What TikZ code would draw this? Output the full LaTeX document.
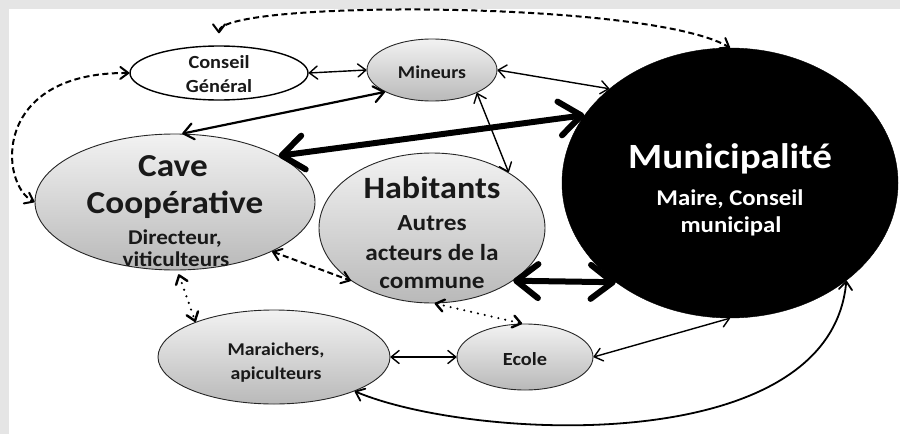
\documentclass[tikz,border=0pt]{standalone}
\usepackage{fontspec}
\setmainfont{Carlito}[FakeStretch=1.1]
\usetikzlibrary{arrows.meta,shapes.geometric}
\definecolor{bgc}{RGB}{229,229,229}
\begin{document}
\begin{tikzpicture}[x=1pt,y=-1pt,
  ell/.style={ellipse, draw=black!85, line width=0.9pt, inner sep=0pt, top color=gray!10, bottom color=gray!55},
  txt/.style={anchor=base, inner sep=0pt, font=\bfseries, text=black!90},
  wtxt/.style={anchor=base, inner sep=0pt, font=\bfseries, text=white},
  lk/.style={line width=1.4pt, {Straight Barb[round,length=8pt,width=13pt]}-{Straight Barb[round,length=8pt,width=13pt]}},
  mid/.style={line width=2.2pt, {Straight Barb[round,length=10pt,width=16pt]}-{Straight Barb[round,length=10pt,width=16pt]}},
  big/.style={line width=6pt, {Straight Barb[round,length=22pt,width=34pt]}-{Straight Barb[round,length=22pt,width=34pt]}},
  dsh/.style={line width=2pt, dash pattern=on 6pt off 3.5pt, {Straight Barb[round,length=8pt,width=12pt]}-{Straight Barb[round,length=8pt,width=12pt]}},
  dtt/.style={line width=2.4pt, line cap=round, dash pattern=on 0pt off 7pt, {Straight Barb[round,length=8pt,width=12pt]}-{Straight Barb[round,length=8pt,width=12pt]}}
]
\useasboundingbox (0,0) rectangle (900,434);
\fill[bgc] (0,0) rectangle (900,434);
\fill[white] (9,9) rectangle (900,434);

% ellipses
\node[ellipse, draw=black, line width=1.4pt, fill=white, inner sep=0pt, minimum width=178pt, minimum height=54pt] (cg) at (219,73) {};
\node[ell, minimum width=130pt, minimum height=62pt] (mins) at (432,70) {};
\node[ellipse, draw=black, fill=black, inner sep=0pt, minimum width=336pt, minimum height=270pt] (mun) at (730,183) {};
\node[ell, minimum width=280pt, minimum height=136pt] (cave) at (175,202) {};
\node[ell, minimum width=226pt, minimum height=150pt] (hab) at (432,228) {};
\node[ell, minimum width=232pt, minimum height=94pt] (mar) at (274,357) {};
\node[ell, minimum width=136pt, minimum height=66pt] (ec) at (525,357) {};

% texts
\node[txt, font=\bfseries\fontsize{18.5}{20}\selectfont] (cgA) at (219,68) {Conseil};
\node[txt, font=\bfseries\fontsize{18.5}{20}\selectfont] (cgB) at (219,92) {Général};
\node[txt, font=\bfseries\fontsize{18}{20}\selectfont] (minA) at (432,78) {Mineurs};
\node[wtxt, font=\bfseries\fontsize{35.5}{38}\selectfont] (munA) at (730,168) {Municipalité};
\node[wtxt, font=\bfseries\fontsize{22.5}{24}\selectfont] (munB) at (730,205) {Maire, Conseil};
\node[wtxt, font=\bfseries\fontsize{22.5}{24}\selectfont] (munC) at (731,232) {municipal};
\node[txt, font=\bfseries\fontsize{32}{34}\selectfont] (caveA) at (173,176) {Cave};
\node[txt, font=\bfseries\fontsize{32}{34}\selectfont] (caveB) at (175,213) {Coopérative};
\node[txt, font=\bfseries\fontsize{21}{23}\selectfont] (caveC) at (175,244) {Directeur,};
\node[txt, font=\bfseries\fontsize{21}{23}\selectfont] (caveD) at (176,266) {viticulteurs};
\node[txt, font=\bfseries\fontsize{31}{34}\selectfont] (habA) at (432,198) {Habitants};
\node[txt, font=\bfseries\fontsize{23}{25}\selectfont] (habB) at (432,230) {Autres};
\node[txt, font=\bfseries\fontsize{23}{25}\selectfont] (habC) at (432,260) {acteurs de la};
\node[txt, font=\bfseries\fontsize{23}{25}\selectfont] (habD) at (432,288) {commune};
\node[txt, font=\bfseries\fontsize{18}{20}\selectfont] (marA) at (276,355) {Maraichers,};
\node[txt, font=\bfseries\fontsize{18}{20}\selectfont] (marB) at (276,379) {apiculteurs};
\node[txt, font=\bfseries\fontsize{18.5}{20}\selectfont] (ecA) at (525,365) {Ecole};

% connectors
\draw[dsh, shorten <=12pt] (cg.north) .. controls (219,0) and (650,0) .. (mun.north);
\draw[dsh] (cg.west) .. controls (-10,72) and (0,185) .. (cave.west);
\draw[lk] (cg.east) -- (mins.west);
\draw[lk] (mins.east) -- (mun.142);
\draw[lk] (mins.-27) -- (hab.36);
\draw[mid] (mins.205) -- (cave.84);
\draw[big] (cave.24) -- (mun.155);
\draw[big] (hab.-33) -- (mun.221);
\draw[dsh] (cave.-27) -- (hab.213);
\draw[dtt, shorten <=4pt] (cave.-88) -- (mar.156);
\draw[dtt] (hab.-88) -- (ec.95);
\draw[lk] (mar.east) -- (ec.west);
\draw[lk] (ec.east) -- (mun.south);
\draw[lk, line width=1.8pt] (mar.-23) .. controls (470,440) and (830,460) .. (mun.-40);
\end{tikzpicture}
\end{document}
